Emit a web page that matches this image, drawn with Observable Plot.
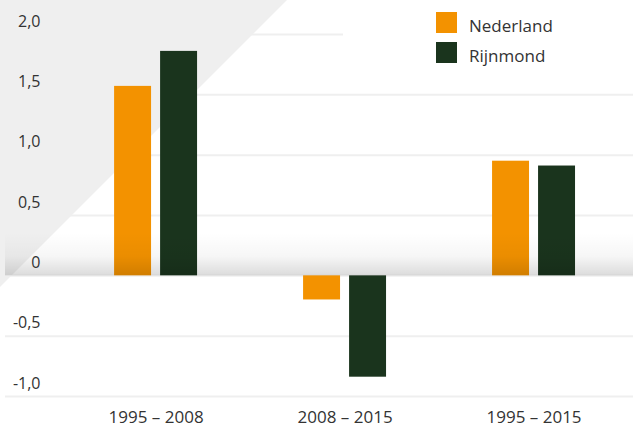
<!DOCTYPE html>
<html>
<head>
<meta charset="utf-8">
<script src="https://cdn.jsdelivr.net/npm/d3@7"></script>
<script src="https://cdn.jsdelivr.net/npm/@observablehq/plot@0.6"></script>
<style>
  html, body { margin: 0; padding: 0; background: #fff; }
  #wrap { position: relative; width: 633px; height: 429px; font-family: "Open Sans", sans-serif; color: #333; }
  #legend { position: absolute; left: 343px; top: 0; width: 290px; height: 78px; background: #fff; }
  .item { position: absolute; left: 93px; height: 21px; display: flex; align-items: flex-end; }
  .sw { width: 21px; height: 21px; margin-right: 12px; flex: none; }
  .lab { font-size: 17px; line-height: 17px; color: #333; position: relative; top: 1px; }
</style>
</head>
<body>
<div id="wrap"><div id="legend"></div></div>
<script>
const categories = ["1995 – 2008", "2008 – 2015", "1995 – 2015"];
const seriesNames = ["Nederland", "Rijnmond"];
const nederland = [1.57, -0.20, 0.95];
const rijnmond = [1.86, -0.84, 0.91];
const seriesColors = ["#f39200", "#1a341d"];
const yTicks = [-1, -0.5, 0, 0.5, 1, 1.5, 2];
const yTickLabels = ["-1,0", "-0,5", "0", "0,5", "1,0", "1,5", "2,0"];

const rowsN = categories.map((c, i) => ({category: c, series: seriesNames[0], value: nederland[i]}));
const rowsR = categories.map((c, i) => ({category: c, series: seriesNames[1], value: rijnmond[i]}));

const NS = "http://www.w3.org/2000/svg";
const bandTop = 0.35; // height of the shaded band above zero, in data units
const triangleSize = 287;

function triangleMark(index, scales, values, dims) {
  const p = document.createElementNS(NS, "polygon");
  p.setAttribute("points", `0,0 ${triangleSize},0 0,${triangleSize}`);
  p.setAttribute("fill", "#efefef");
  return p;
}

function bandMark(index, scales, values, dims) {
  const g = document.createElementNS(NS, "g");
  const defs = document.createElementNS(NS, "defs");
  const lg = document.createElementNS(NS, "linearGradient");
  lg.setAttribute("id", "zeroBand");
  lg.setAttribute("x1", "0"); lg.setAttribute("y1", "0");
  lg.setAttribute("x2", "0"); lg.setAttribute("y2", "1");
  [[0, 0], [0.55, 0.035], [1, 0.14]].forEach(([o, a]) => {
    const s = document.createElementNS(NS, "stop");
    s.setAttribute("offset", o);
    s.setAttribute("stop-color", "#000");
    s.setAttribute("stop-opacity", a);
    lg.appendChild(s);
  });
  defs.appendChild(lg);
  g.appendChild(defs);
  const y = scales.y;
  const r = document.createElementNS(NS, "rect");
  const yt = y(bandTop), y0 = y(0);
  r.setAttribute("x", dims.marginLeft);
  r.setAttribute("y", yt);
  r.setAttribute("width", dims.width - dims.marginLeft - dims.marginRight);
  r.setAttribute("height", y0 - yt);
  r.setAttribute("fill", "url(#zeroBand)");
  g.appendChild(r);
  return g;
}

const chart = Plot.plot({
  width: 633,
  height: 429,
  marginLeft: 5,
  marginRight: 0,
  marginTop: 34,
  marginBottom: 33,
  style: {fontFamily: "'Open Sans', sans-serif", fontSize: "16px", color: "#333", background: "transparent", overflow: "visible"},
  x: {type: "band", domain: categories, paddingInner: 0.561, paddingOuter: 0.442, align: 0.653, round: false, label: null},
  y: {domain: [-1, 2], label: null},
  marks: [
    Plot.gridY(yTicks, {stroke: "#efefef", strokeOpacity: 1, strokeWidth: 2}),
    triangleMark,
    Plot.barY(rowsN, {x: "category", y: "value", fill: seriesColors[0], insetRight: 46}),
    Plot.barY(rowsR, {x: "category", y: "value", fill: seriesColors[1], insetLeft: 46}),
    bandMark,
    Plot.axisY(yTicks, {tickSize: 0, tickPadding: 0, dx: 35, dy: -13, fontSize: 16,
      tickFormat: (d) => yTickLabels[yTicks.indexOf(d)]}),
    Plot.axisX({tickSize: 0, tickPadding: 14, fontSize: 17})
  ]
});

const wrap = document.getElementById("wrap");
wrap.insertBefore(chart, wrap.firstChild);

const legend = document.getElementById("legend");
seriesNames.forEach((name, i) => {
  const item = document.createElement("div");
  item.className = "item";
  item.style.top = (12 + i * 30) + "px";
  const sw = document.createElement("div");
  sw.className = "sw";
  sw.style.background = seriesColors[i];
  const lab = document.createElement("span");
  lab.className = "lab";
  lab.textContent = name;
  item.appendChild(sw);
  item.appendChild(lab);
  legend.appendChild(item);
});
</script>
</body>
</html>
